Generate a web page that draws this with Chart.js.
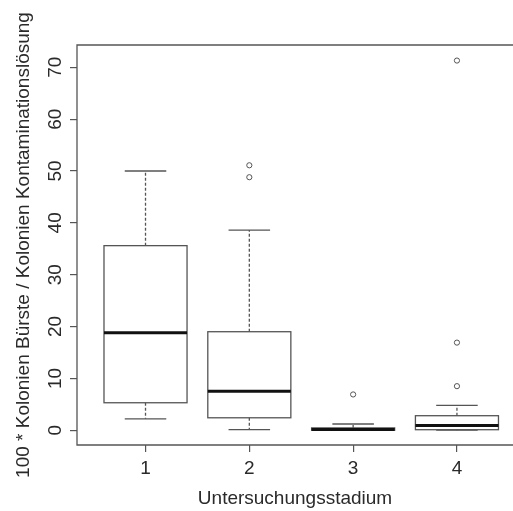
<!DOCTYPE html>
<html>
<head>
<meta charset="utf-8">
<script src="https://cdn.jsdelivr.net/npm/chart.js@4.4.1/dist/chart.umd.min.js"></script>
<style>
html, body { margin: 0; padding: 0; background: #fff; }
</style>
</head>
<body>
<canvas id="boxChart" width="513" height="511"></canvas>
<script>
// boxplot summary per Untersuchungsstadium
const categories = [1, 2, 3, 4];
const whiskerLow = [2.2, 0.1, 0.0, 0.0];
const lowerQuartile = [5.3, 2.4, 0.0, 0.1];
const medians = [18.8, 7.5, 0.15, 0.9];
const upperQuartile = [35.6, 19.0, 0.45, 2.8];
const whiskerHigh = [50.0, 38.6, 1.2, 4.8];

// outliers: group and value
const outlierGroup = [2, 2, 3, 4, 4, 4];
const outlierValue = [51.1, 48.8, 6.9, 71.3, 16.9, 8.5];

const yTicks = [0, 10, 20, 30, 40, 50, 60, 70];

const lineColor = "#555";
const textColor = "#2a2a2a";

// draws boxes, medians and whiskers from the arrays using the chart scales
const boxplotPlugin = {
    id: "boxplot",
    afterDatasetsDraw(chart) {
        const ctx = chart.ctx;
        const x = chart.scales.x;
        const y = chart.scales.y;
        ctx.save();
        categories.forEach((cat, i) => {
            const cx = x.getPixelForValue(cat);
            const left = x.getPixelForValue(cat - 0.4);
            const right = x.getPixelForValue(cat + 0.4);
            const capL = x.getPixelForValue(cat - 0.2);
            const capR = x.getPixelForValue(cat + 0.2);
            const yLo = y.getPixelForValue(whiskerLow[i]);
            const yQ1 = y.getPixelForValue(lowerQuartile[i]);
            const yMed = y.getPixelForValue(medians[i]);
            const yQ3 = y.getPixelForValue(upperQuartile[i]);
            const yHi = y.getPixelForValue(whiskerHigh[i]);

            // dashed whiskers
            ctx.strokeStyle = lineColor;
            ctx.lineWidth = 1.3;
            ctx.setLineDash([3, 2]);
            ctx.beginPath();
            ctx.moveTo(cx, yQ3);
            ctx.lineTo(cx, yHi);
            ctx.moveTo(cx, yQ1);
            ctx.lineTo(cx, yLo);
            ctx.stroke();
            ctx.setLineDash([]);

            // whisker caps
            ctx.beginPath();
            ctx.moveTo(capL, yHi);
            ctx.lineTo(capR, yHi);
            ctx.moveTo(capL, yLo);
            ctx.lineTo(capR, yLo);
            ctx.stroke();

            // box
            ctx.strokeRect(left, yQ3, right - left, yQ1 - yQ3);

            // median
            ctx.strokeStyle = "#111";
            ctx.lineWidth = 3;
            ctx.beginPath();
            ctx.moveTo(left, yMed);
            ctx.lineTo(right, yMed);
            ctx.stroke();
        });
        ctx.restore();
    },
    afterDraw(chart) {
        // plot frame (right side is cut off in the picture)
        const a = chart.chartArea;
        const ctx = chart.ctx;
        ctx.save();
        ctx.strokeStyle = "#555";
        ctx.lineWidth = 1.3;
        ctx.beginPath();
        ctx.moveTo(a.right + 2, a.top);
        ctx.lineTo(a.left, a.top);
        ctx.lineTo(a.left, a.bottom);
        ctx.lineTo(a.right + 2, a.bottom);
        ctx.stroke();
        ctx.restore();
    }
};

const outlierPoints = outlierGroup.map((g, i) => ({ x: g, y: outlierValue[i] }));

const ctx = document.getElementById("boxChart").getContext("2d");
const boxChart = new Chart(ctx, {
    type: "scatter",
    data: {
        datasets: [{
            label: "Ausreißer",
            data: outlierPoints,
            pointStyle: "circle",
            pointRadius: 2.6,
            borderColor: "#555",
            borderWidth: 1,
            backgroundColor: "rgba(0,0,0,0)"
        }]
    },
    options: {
        responsive: false,
        devicePixelRatio: 1,
        animation: false,
        layout: {
            autoPadding: false,
            padding: { top: 45, left: 0, right: 0, bottom: 0 }
        },
        plugins: {
            legend: { display: false },
            tooltip: { enabled: false }
        },
        scales: {
            x: {
                type: "linear",
                min: 0.34,
                max: 4.54,
                afterBuildTicks: (scale) => {
                    scale.ticks = categories.map(v => ({ value: v }));
                },
                afterFit: (scale) => {
                    scale.height = 66;
                    scale.paddingLeft = 0;
                    scale.paddingRight = 0;
                },
                border: { display: false },
                grid: {
                    drawOnChartArea: false,
                    drawTicks: true,
                    tickLength: 7,
                    color: "#555",
                    lineWidth: 1.2
                },
                ticks: {
                    color: textColor,
                    padding: 5,
                    font: { family: "'Liberation Sans', Arial, sans-serif", size: 19 }
                },
                title: {
                    display: true,
                    text: "Untersuchungsstadium",
                    color: textColor,
                    padding: { top: 0, bottom: 1 },
                    font: { family: "'Liberation Sans', Arial, sans-serif", size: 19 }
                }
            },
            y: {
                type: "linear",
                min: -2.85,
                max: 74.3,
                afterBuildTicks: (scale) => {
                    scale.ticks = yTicks.map(v => ({ value: v }));
                },
                afterFit: (scale) => {
                    scale.width = 77;
                    scale.paddingTop = 0;
                    scale.paddingBottom = 0;
                },
                border: { display: false },
                grid: {
                    drawOnChartArea: false,
                    drawTicks: true,
                    tickLength: 7,
                    color: "#555",
                    lineWidth: 1.2
                },
                ticks: {
                    color: textColor,
                    padding: 4,
                    minRotation: 90,
                    maxRotation: 90,
                    crossAlign: "center",
                    font: { family: "'Liberation Sans', Arial, sans-serif", size: 19 }
                },
                title: {
                    display: true,
                    text: "100 * Kolonien Bürste / Kolonien Kontaminationslösung",
                    color: textColor,
                    padding: { top: 12, bottom: 0 },
                    font: { family: "'Liberation Sans', Arial, sans-serif", size: 19 }
                }
            }
        }
    },
    plugins: [boxplotPlugin]
});
</script>
</body>
</html>
